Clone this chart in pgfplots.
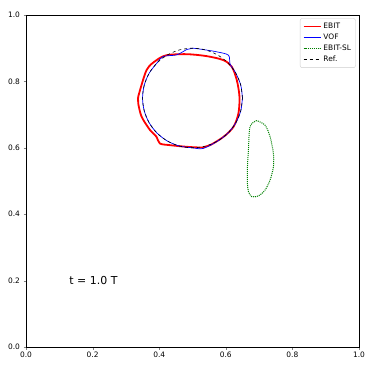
\documentclass[border=0pt]{standalone}
\usepackage{pgfplots}
\pgfplotsset{compat=1.18}
\usepackage{fontspec}
\setmainfont{DejaVu Sans}
\definecolor{mplgreen}{RGB}{0,128,0}

\begin{document}
\begin{tikzpicture}
\begin{axis}[
  scale only axis,
  width=333bp, height=332bp,
  xmin=0, xmax=1, ymin=0, ymax=1,
  xtick={0,0.2,0.4,0.6,0.8,1.0},
  ytick={0,0.2,0.4,0.6,0.8,1.0},
  xticklabel style={yshift=1bp, /pgf/number format/.cd, fixed, fixed zerofill, precision=1},
  yticklabel style={/pgf/number format/.cd, fixed, fixed zerofill, precision=1},
  /pgf/number format/assume math mode=true,
  tick label style={font=\fontsize{7.5}{8}\selectfont},
  tick align=outside, xtick pos=bottom, ytick pos=left,
  major tick length=2.5bp,
  axis line style={line width=0.6pt},
  legend cell align={left},
  legend style={at={(0.99,0.99)}, anchor=north east, font=\fontsize{7.5}{8}\selectfont,
    draw=black!20, rounded corners=2pt, row sep=0pt, inner sep=2.5pt},
]

% EBIT
\addplot[red, line width=1.8bp, smooth] coordinates {
  (0.337,0.754) (0.337,0.734) (0.347,0.694) (0.372,0.654) (0.392,0.633)
  (0.402,0.613) (0.432,0.608) (0.483,0.603) (0.532,0.601) (0.553,0.608)
  (0.593,0.633) (0.623,0.663) (0.638,0.704) (0.641,0.754) (0.633,0.804)
  (0.618,0.844) (0.593,0.864) (0.543,0.876) (0.483,0.882) (0.423,0.879)
  (0.392,0.864) (0.362,0.834) (0.337,0.754)};
\addlegendentry{EBIT}

% VOF
\addplot[blue, line width=0.7bp, smooth] coordinates {
  (0.650,0.750) (0.6449,0.7888) (0.6299,0.825) (0.613,0.852) (0.608,0.879)
  (0.573,0.889) (0.5388,0.8949) (0.500,0.900) (0.483,0.896) (0.4525,0.880)
  (0.412,0.875) (0.3939,0.8561) (0.3701,0.825) (0.3551,0.7888) (0.350,0.750)
  (0.3551,0.7112) (0.3701,0.675) (0.3939,0.6439) (0.425,0.6201) (0.4612,0.6051)
  (0.500,0.600) (0.532,0.598) (0.575,0.6201) (0.6061,0.6439) (0.6299,0.675)
  (0.6449,0.7112) (0.650,0.750)};
\addlegendentry{VOF}

% EBIT-SL
\addplot[mplgreen, line width=1bp, densely dotted, smooth] coordinates {
  (0.693,0.682) (0.678,0.673) (0.671,0.654) (0.668,0.593) (0.665,0.543)
  (0.665,0.493) (0.668,0.468) (0.678,0.453) (0.698,0.455) (0.718,0.473)
  (0.733,0.503) (0.743,0.543) (0.743,0.583) (0.733,0.633) (0.718,0.668)
  (0.693,0.682)};
\addlegendentry{EBIT-SL}

% Ref.
\addplot[black, line width=0.6bp, dashed, smooth] coordinates {
  (0.650,0.750) (0.6449,0.7888) (0.6299,0.825) (0.6061,0.8561) (0.575,0.8799)
  (0.5388,0.8949) (0.500,0.900) (0.4612,0.8949) (0.425,0.8799) (0.3939,0.8561)
  (0.3701,0.825) (0.3551,0.7888) (0.350,0.750) (0.3551,0.7112) (0.3701,0.675)
  (0.3939,0.6439) (0.425,0.6201) (0.4612,0.6051) (0.500,0.600) (0.5388,0.6051)
  (0.575,0.6201) (0.6061,0.6439) (0.6299,0.675) (0.6449,0.7112) (0.650,0.750)};
\addlegendentry{Ref.}

\node[anchor=west, font=\fontsize{11}{12}\selectfont] at (axis cs:0.12,0.2) {t = 1.0 T};
\end{axis}
\path (current axis.south west) ++(-26bp,-27bp) coordinate (bl);
\path (current axis.north east) ++(15bp,15bp) coordinate (tr);
\useasboundingbox (bl) rectangle (tr);
\end{tikzpicture}
\end{document}
